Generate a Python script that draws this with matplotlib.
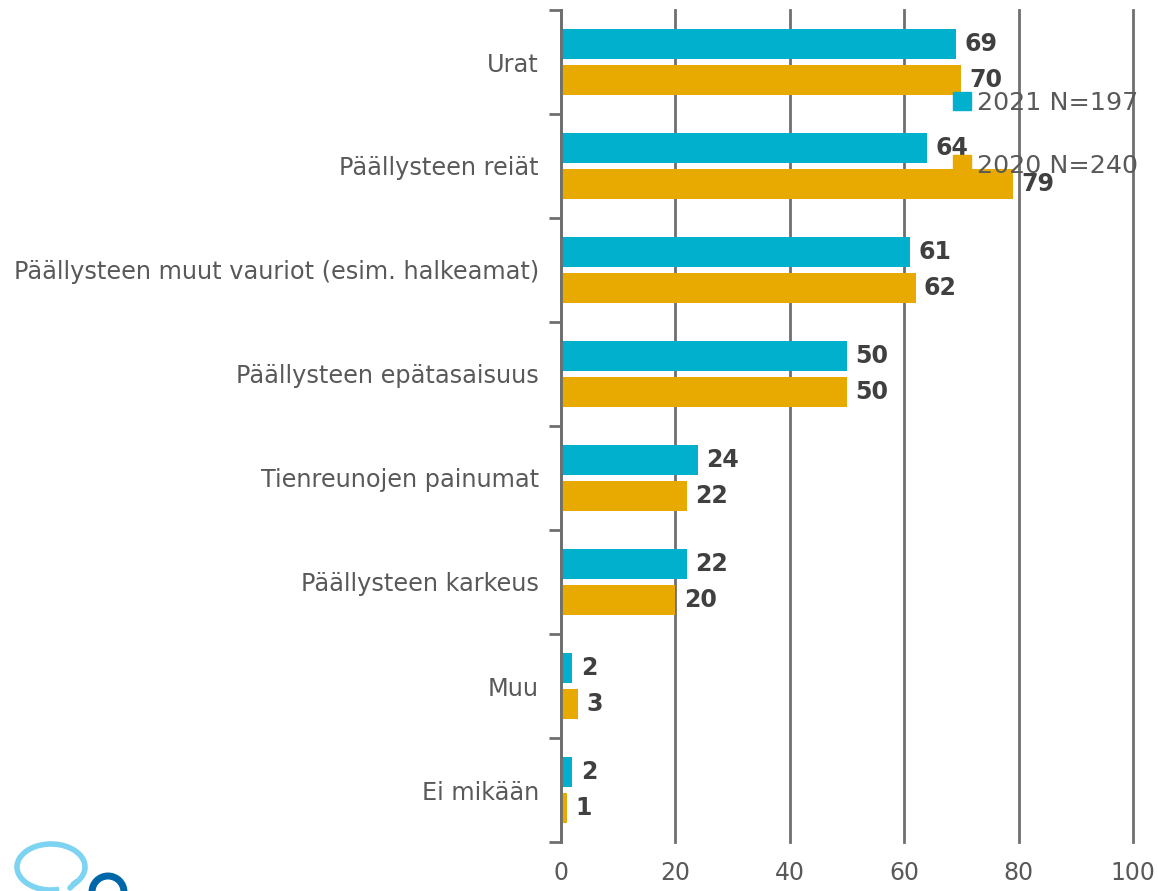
import matplotlib
matplotlib.use('Agg')
import matplotlib.pyplot as plt
from matplotlib.patches import Patch, Arc, Circle
from matplotlib.lines import Line2D
import numpy as np

categories = [
    "Urat",
    "Päällysteen reiät",
    "Päällysteen muut vauriot (esim. halkeamat)",
    "Päällysteen epätasaisuus",
    "Tienreunojen painumat",
    "Päällysteen karkeus",
    "Muu",
    "Ei mikään",
]
values_2021 = [69, 64, 61, 50, 24, 22, 2, 2]
values_2020 = [70, 79, 62, 50, 22, 20, 3, 1]
series_labels = ["2021 N=197", "2020 N=240"]
x_ticks = [0, 20, 40, 60, 80, 100]

cyan = "#00B0CC"
gold = "#E8A900"
grey_text = "#595959"
grid_col = "#6f6f6f"
val_col = "#404040"

fig = plt.figure(figsize=(11.58, 8.91), dpi=100)
ax = fig.add_axes([561 / 1158, 1 - 842 / 891, (1133 - 561) / 1158, (842 - 10) / 891])

y = np.arange(len(categories))
h = 0.29
off = 0.17
b1 = ax.barh(y - off, values_2021, height=h, color=cyan, zorder=3)
b2 = ax.barh(y + off, values_2020, height=h, color=gold, zorder=3)

for bars, vals in ((b1, values_2021), (b2, values_2020)):
    for bar, v in zip(bars, vals):
        ax.annotate(str(v), (bar.get_width(), bar.get_y() + bar.get_height() / 2),
                    xytext=(6, 0), textcoords="offset points", va="center", ha="left",
                    fontsize=17, fontweight="bold", color=val_col, zorder=5)

ax.set_xlim(0, 100)
ax.set_ylim(len(categories) - 0.5, -0.5)
ax.set_xticks(x_ticks)
ax.set_xticklabels([str(t) for t in x_ticks], fontsize=17, color=grey_text)
ax.tick_params(axis="x", length=0, pad=14)
ax.xaxis.grid(True, color=grid_col, linewidth=2, zorder=0)
for gl in ax.get_xgridlines():
    gl.set_clip_on(False)

# boundaries as major ticks, names on minor ticks
ax.set_yticks(np.arange(len(categories) + 1) - 0.5)
ax.set_yticklabels([])
ax.tick_params(axis="y", which="major", length=9, width=2, color=grid_col, direction="out")
ax.set_yticks(y, minor=True)
ax.set_yticklabels(categories, minor=True, fontsize=17.3, color=grey_text)
ax.tick_params(axis="y", which="minor", length=0, pad=16)

for s in ("top", "right", "bottom"):
    ax.spines[s].set_visible(False)
ax.spines["left"].set_color(grid_col)
ax.spines["left"].set_linewidth(2)
ax.spines["left"].set_zorder(4)

handles = [Patch(color=cyan), Patch(color=gold)]
leg = fig.legend(handles, series_labels, loc="upper left",
                 bbox_to_anchor=(940 / 1158, 1 - 78 / 891), frameon=False,
                 fontsize=18.3, labelcolor=grey_text, handlelength=0.7, handleheight=0.7,
                 handletextpad=0.25, labelspacing=1.55, borderpad=0)
leg.set_zorder(6)

# logo fragments at the bottom left
fig.patches.append(Arc((51, 891 - 867), 68, 46, theta1=-40, theta2=290, transform=None,
                       edgecolor="#7DD3F2", linewidth=4))
fig.lines.append(Line2D([76, 70], [891 - 882, 891 - 888], transform=None,
                        color="#7DD3F2", linewidth=4, solid_capstyle="round"))
fig.patches.append(Circle((108, 891 - 892), 16, transform=None, fill=False,
                          edgecolor="#0068A8", linewidth=5))

fig.savefig("out.png", dpi=100)
